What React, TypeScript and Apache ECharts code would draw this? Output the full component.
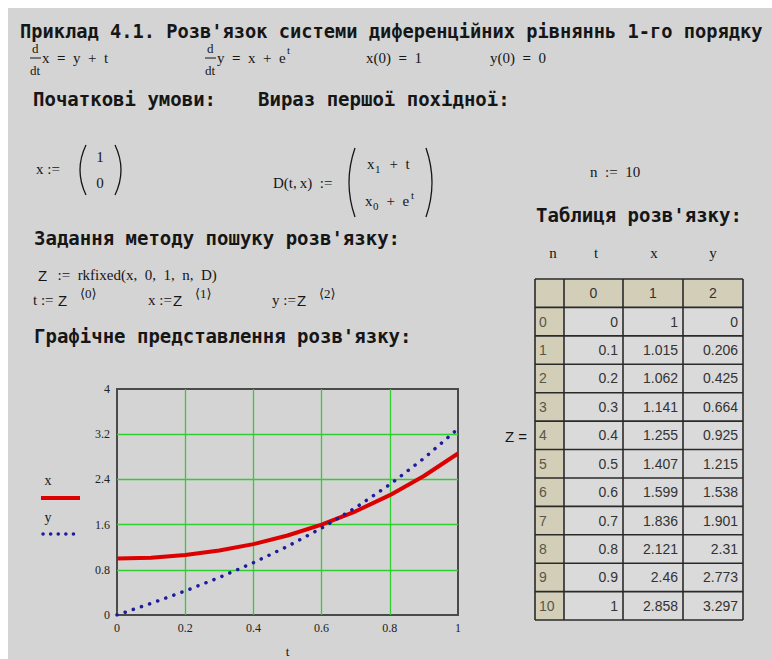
import React, { useEffect, useRef } from "react";
import * as echarts from "echarts";

// Solution of the ODE system x' = y + t, y' = x + e^t on [0, 1], n = 10 steps
const T_VALUES = [0, 0.1, 0.2, 0.3, 0.4, 0.5, 0.6, 0.7, 0.8, 0.9, 1];
const X_VALUES = [1, 1.015, 1.062, 1.141, 1.255, 1.407, 1.599, 1.836, 2.121, 2.46, 2.858];
const Y_VALUES = [0, 0.206, 0.425, 0.664, 0.925, 1.215, 1.538, 1.901, 2.31, 2.773, 3.297];
const TABLE_COLUMN_LABELS = ["0", "1", "2"];
const TABLE_HEADINGS = ["n", "t", "x", "y"];

const SHEET_BG = "#d4d4d4";
const SERIF = '"Liberation Serif", "DejaVu Serif", serif';
const SANS = '"Liberation Sans", Arial, sans-serif';
const MONO = '"DejaVu Sans Mono", "Liberation Mono", monospace';
const HEAD_FONT = `bold 19px ${MONO}`;
const TITLE_FONT = `bold 18.7px ${MONO}`;
const MATH_FONT = `15px ${SERIF}`;
const SMALL_FONT = `11px ${SERIF}`;
const INK = "#161616";
const SP = "\u2002"; // en space, used around math operators
const THIN = "\u2009";

const RED = "#dd0000";
const BLUE = "#1c1c9c";
const GRID_GREEN = "#2fcf2f";

function label(x: number, y: number, text: string, font: string, extra: any = {}) {
  return {
    type: "text",
    x,
    y,
    silent: true,
    style: { text, font, fill: INK, align: "left", verticalAlign: "middle", ...extra },
  };
}

function hline(x1: number, x2: number, y: number, stroke = INK, lineWidth = 1) {
  return { type: "line", silent: true, shape: { x1, y1: y, x2, y2: y }, style: { stroke, lineWidth } };
}

function vline(x: number, y1: number, y2: number, stroke = INK, lineWidth = 1) {
  return { type: "line", silent: true, shape: { x1: x, y1, x2: x, y2 }, style: { stroke, lineWidth } };
}

// Round bracket drawn as a quadratic curve; dir = -1 for "(", +1 for ")"
function paren(extremeX: number, top: number, bottom: number, dir: number) {
  const depth = 6;
  const endX = extremeX - dir * depth;
  const cpX = extremeX + dir * depth;
  return {
    type: "bezierCurve",
    silent: true,
    shape: { x1: endX, y1: top, cpx1: cpX, cpy1: (top + bottom) / 2, x2: endX, y2: bottom },
    style: { stroke: INK, lineWidth: 1.3, fill: null },
  };
}

// Bold "=" marks symbolic equality, as in the worksheet
function equation(x: number, y: number, text: string) {
  return {
    type: "text", x, y, silent: true,
    style: {
      text, font: MATH_FONT, fill: INK, verticalAlign: "middle",
      rich: { b: { fontWeight: "bold", fontSize: 15, fontFamily: SERIF } },
    },
  };
}

function derivative(x: number) {
  return [
    label(x + 2, 48, "d", `13px ${SERIF}`),
    hline(x, x + 11, 58, INK, 1),
    label(x, 70, "dt", `13px ${SERIF}`),
  ];
}

function sheetText(): any[] {
  const els: any[] = [];
  // headings
  els.push(label(20, 31, "Приклад 4.1. Розв'язок системи диференційних рівняннь 1-го порядку", TITLE_FONT));
  els.push(label(33, 99, "Початкові умови:", HEAD_FONT));
  els.push(label(258, 99, "Вираз першої похідної:", HEAD_FONT));
  els.push(label(536, 215, "Таблиця розв'язку:", HEAD_FONT));
  els.push(label(34, 238, "Задання методу пошуку розв'язку:", HEAD_FONT));
  els.push(label(34, 336, "Графічне представлення розв'язку:", HEAD_FONT));

  // equations row
  els.push(...derivative(30));
  els.push(equation(42, 58, `x${SP}{b|=}${SP}y${SP}+${SP}t`));
  els.push(...derivative(205));
  els.push(equation(217, 58, `y${SP}{b|=}${SP}x${SP}+${SP}e`));
  els.push(label(287, 50, "t", SMALL_FONT));
  els.push(equation(366, 58, `x(0)${SP}{b|=}${SP}1`));
  els.push(equation(490, 58, `y(0)${SP}{b|=}${SP}0`));

  // initial vector
  els.push(label(36, 169, "x :=", MATH_FONT));
  els.push(paren(80, 145, 195, -1));
  els.push(label(100, 157, "1", MATH_FONT, { align: "center" }));
  els.push(label(100, 183, "0", MATH_FONT, { align: "center" }));
  els.push(paren(121, 145, 195, 1));

  // right-hand side D(t, x)
  els.push(label(273, 183, `D(t,${THIN}x)${SP}:=`, MATH_FONT));
  els.push(paren(349, 148, 217, -1));
  els.push(label(367, 164, "x", MATH_FONT));
  els.push(label(375, 169, "1", SMALL_FONT));
  els.push(label(382, 164, `${SP}+${SP}t`, MATH_FONT));
  els.push(label(365, 201, "x", MATH_FONT));
  els.push(label(373, 206, "0", SMALL_FONT));
  els.push(label(379, 201, `${SP}+${SP}e`, MATH_FONT));
  els.push(label(411, 195, "t", SMALL_FONT));
  els.push(paren(432, 148, 217, 1));

  els.push(label(590, 172, `n${SP}:=${SP}10`, MATH_FONT));

  // rkfixed call and column extraction
  els.push(label(38, 275, "Z", `15px ${SANS}`));
  els.push(label(50, 275, `${SP}:=${SP}rkfixed(x,${SP}0,${SP}1,${SP}n,${SP}D)`, `15px ${SERIF}`));
  const cols: [number, string, string][] = [
    [33, "t :=", "⟨0⟩"],
    [148, "x :=", "⟨1⟩"],
    [272, "y :=", "⟨2⟩"],
  ];
  for (const [x0, lhs, sup] of cols) {
    els.push(label(x0, 300, lhs, MATH_FONT));
    els.push(label(x0 + 25, 300, "Z", `15px ${SANS}`));
    els.push(label(x0 + 47, 293, sup, `13px ${SERIF}`));
  }

  // solution table
  TABLE_HEADINGS.forEach((h, i) => {
    els.push(label([553, 596, 654, 713][i], 253, h, MATH_FONT, { align: "center" }));
  });
  els.push(label(505, 436, "Z =", `15px ${SANS}`));

  const colEdges = [535, 564, 623, 683, 743];
  const rowTop = 279;
  const rowH = 28.42;
  const nRows = T_VALUES.length + 1;
  for (let r = 0; r < nRows; r++) {
    for (let c = 0; c < 4; c++) {
      const isHead = r === 0 || c === 0;
      els.push({
        type: "rect", silent: true,
        shape: { x: colEdges[c], y: rowTop + r * rowH, width: colEdges[c + 1] - colEdges[c], height: rowH },
        style: { fill: isHead ? "#d2ceb8" : "#dadada" },
      });
    }
  }
  const tableBottom = rowTop + nRows * rowH;
  for (let r = 0; r <= nRows; r++) els.push(hline(colEdges[0], colEdges[4], rowTop + r * rowH, "#2a2a2a", 1.6));
  for (const x of colEdges) els.push(vline(x, rowTop, tableBottom, "#2a2a2a", 1.6));

  const cellFont = `14px ${SANS}`;
  TABLE_COLUMN_LABELS.forEach((s, i) => {
    const cx = (colEdges[i + 1] + colEdges[i + 2]) / 2;
    els.push(label(cx, rowTop + rowH / 2, s, cellFont, { align: "center", fill: "#333" }));
  });
  const columns = [T_VALUES, X_VALUES, Y_VALUES];
  for (let i = 0; i < T_VALUES.length; i++) {
    const cy = rowTop + (i + 1) * rowH + rowH / 2;
    els.push(label(colEdges[0] + 4, cy, String(i), cellFont, { fill: "#5a5646" }));
    columns.forEach((col, c) => {
      els.push(label(colEdges[c + 2] - 5, cy, String(col[i]), cellFont, { align: "right", fill: "#333" }));
    });
  }

  // plot key
  els.push(label(48, 480, "x", `14px ${SERIF}`, { align: "center" }));
  els.push(hline(41, 80, 498, RED, 4));
  els.push(label(48, 517, "y", `14px ${SERIF}`, { align: "center" }));
  els.push({
    type: "line", silent: true,
    shape: { x1: 43, y1: 534, x2: 80, y2: 534 },
    style: { stroke: BLUE, lineWidth: 3.5, lineDash: [0.1, 7.5], lineCap: "round" },
  });
  return els;
}

const tickFormatter = (v: number) => String(parseFloat(v.toFixed(2)));

export default function App() {
  const ref = useRef<HTMLDivElement>(null);

  useEffect(() => {
    if (!ref.current) return;
    const chart = echarts.init(ref.current, null, { renderer: "svg" });
    chart.setOption({
      animation: false,
      backgroundColor: "#ffffff",
      graphic: [
        {
          type: "rect", silent: true, z: -10,
          shape: { x: 8, y: 8, width: 772 - 8, height: 659 - 8 },
          style: { fill: SHEET_BG },
        },
        ...sheetText(),
      ],
      grid: {
        left: 117, right: 314, top: 389, bottom: 43,
        show: true, borderColor: "#4a4a4a", borderWidth: 2, backgroundColor: "transparent",
      },
      xAxis: {
        type: "value", min: 0, max: 1, interval: 0.2,
        name: "t", nameLocation: "middle", nameGap: 30,
        nameTextStyle: { fontFamily: SERIF, fontSize: 13, color: INK },
        axisLine: { show: false }, axisTick: { show: false },
        axisLabel: { color: "#222", fontFamily: SERIF, fontSize: 12, margin: 7, formatter: tickFormatter },
        splitLine: { show: true, showMinLine: false, showMaxLine: false, lineStyle: { color: GRID_GREEN, width: 1.3 } },
      },
      yAxis: {
        type: "value", min: 0, max: 4, interval: 0.8,
        axisLine: { show: false }, axisTick: { show: false },
        axisLabel: { color: "#222", fontFamily: SERIF, fontSize: 12, margin: 7, formatter: tickFormatter },
        splitLine: { show: true, showMinLine: false, showMaxLine: false, lineStyle: { color: GRID_GREEN, width: 1.3 } },
      },
      series: [
        {
          name: "x", type: "line", showSymbol: false, z: 3,
          data: T_VALUES.map((t, i) => [t, X_VALUES[i]]),
          lineStyle: { color: RED, width: 4 },
        },
        {
          name: "y", type: "line", showSymbol: false, z: 4,
          data: T_VALUES.map((t, i) => [t, Y_VALUES[i]]),
          lineStyle: { color: BLUE, width: 3.5, type: [0.1, 8.5], cap: "round" },
        },
      ],
    });
    return () => chart.dispose();
  }, []);

  return (
    <div
      ref={ref}
      style={{ position: "absolute", left: 0, top: 0, width: 772, height: 659 }}
    />
  );
}
